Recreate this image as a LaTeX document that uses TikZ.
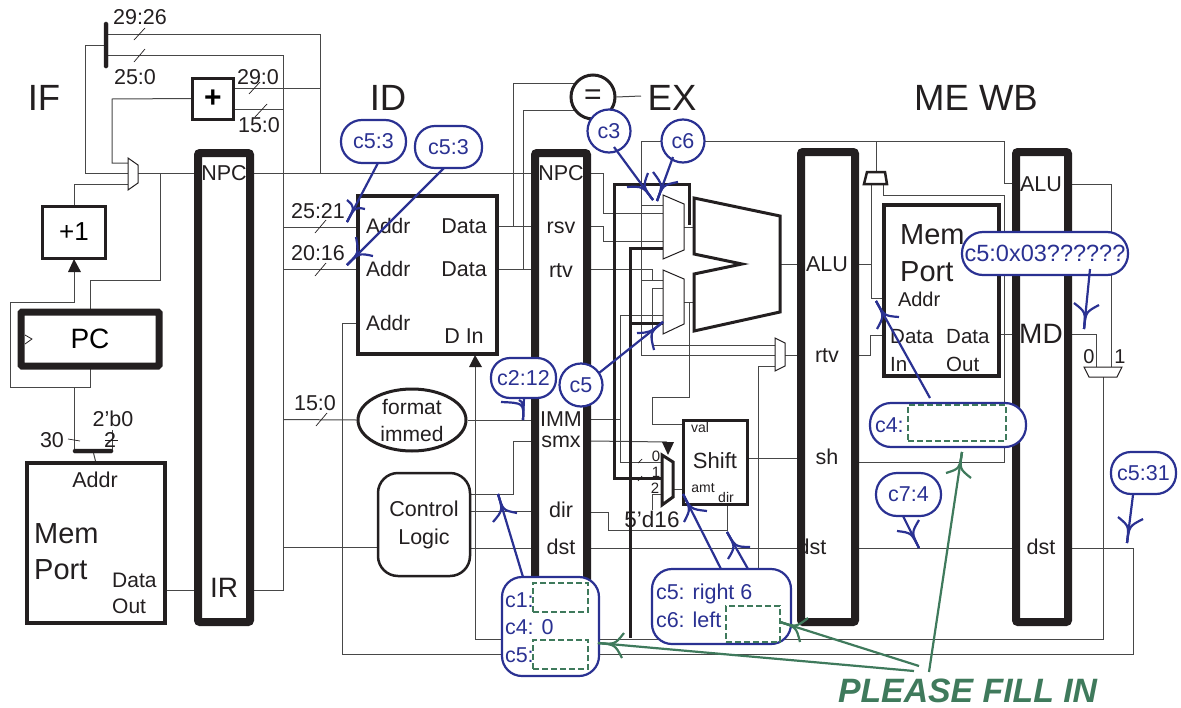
\documentclass[tikz,border=0pt]{standalone}
\usepackage{fontspec}
\setmainfont{Liberation Sans}
\usetikzlibrary{backgrounds,calc,shapes.geometric}
\newcommand\fs[1]{\fontsize{#1}{#1}\selectfont}
\definecolor{ink}{HTML}{231F20}
\definecolor{hblue}{HTML}{2A3192}
\definecolor{hgreen}{HTML}{3F7A5C}
\newcommand\hand[5]{%
  \coordinate (hS) at #2; \coordinate (hT) at #3;
  \coordinate (hC) at ($(hT)!17pt!(hS)$);
  \draw[#1] (hS) -- (hT);
  \draw[#1] #4 .. controls (hC) .. (hT);
  \draw[#1] #5 .. controls (hC) .. (hT);
}
\tikzset{
  wire/.style={line width=1pt,draw=black!72},
  hwire/.style={line width=3pt,draw=ink},
  tick/.style={line width=.7pt,draw=ink},
  reg/.style={draw=ink,rectangle,line width=8pt,rounded corners=2pt,inner sep=0,outer sep=0},
  box/.style={draw=ink,rectangle,line width=4pt,inner sep=0,outer sep=0},
  lab/.style={anchor=base,inner sep=0,outer sep=0,text=ink,font=\fs{21.5}},
  labl/.style={anchor=base west,inner sep=0,outer sep=0,text=ink,font=\fs{21}},
  big/.style={lab,font=\fs{36.5}},
  mid/.style={lab,font=\fs{28}},
  small/.style={lab,font=\fs{14}},
  mux/.style={draw=ink,line width=1pt,fill=white},
  bub/.style={draw=hblue,line width=2.2pt,fill=white,rectangle,inner sep=0,outer sep=0,text=hblue,font=\fs{21.5}},
  circ/.style={draw=hblue,line width=2.2pt,fill=white,circle,inner sep=0,outer sep=0,text=hblue,font=\fs{21.5},minimum size=43pt},
  bt/.style={anchor=base west,inner sep=0,outer sep=0,text=hblue,font=\fs{21.5}},
  gbox/.style={draw=hgreen,line width=2pt,dash pattern=on 6pt off 3pt,rectangle,inner sep=0,outer sep=0},
  ha/.style={draw=hblue,line width=2.2pt},
  ga/.style={draw=hgreen,line width=2.2pt},
}
\begin{document}
\begin{tikzpicture}[x=1pt,y=-1pt]
\useasboundingbox (0,0) rectangle (1181,707);
% stage titles
\node[big] (tIF) at (44,110) {IF};
\node[big] (tID) at (388,110) {ID};
\node[big] (tEX) at (672,110) {EX};
\node[big] (tME) at (976,110) {ME WB};
% buses and small boxes
\node[draw=ink,fill=ink,rectangle,rounded corners=1.5pt,minimum width=4pt,minimum height=46pt,inner sep=0] (split) at (106,45) {};
\node[box,line width=3pt,minimum width=41pt,minimum height=41pt,font=\bfseries\fs{30}] (add) at (213,98.5) {+};
\node[box,line width=3pt,minimum width=63pt,minimum height=52pt,font=\fs{26}] (inc) at (74,232) {+1};
\node[box,line width=7pt,rounded corners=1pt,minimum width=138pt,minimum height=54pt,font=\fs{28}] (pc) at (90,339) {PC};
\node[draw=ink,fill=ink,rectangle,rounded corners=1.5pt,minimum width=40pt,minimum height=4pt,inner sep=0] (join) at (93,451) {};
\node[box,minimum width=138pt,minimum height=160pt] (imem) at (96,543) {};
\node[box,minimum width=139pt,minimum height=158pt] (rf) at (427.5,275) {};
\node[box,minimum width=115pt,minimum height=171pt] (dmem) at (941.5,290.5) {};
\node[box,line width=3pt,minimum width=64pt,minimum height=84pt] (shift) at (715.5,462.5) {};
\node[draw=ink,line width=3pt,ellipse,minimum width=108pt,minimum height=62pt,inner sep=0,align=center,font=\fontsize{21}{27}\selectfont,text=ink,fill=white] (fmt) at (412,420) {format\\immed};
\node[draw=ink,line width=2.5pt,rectangle,rounded corners=20pt,minimum width=92pt,minimum height=103pt,inner sep=0,align=center,font=\fontsize{21.5}{28}\selectfont,text=ink,fill=white] (ctl) at (424,524.5) {Control\\Logic};
\node[draw=ink,line width=3pt,circle,minimum size=44pt,inner sep=0,font=\fs{30},text=ink,fill=white] (eq) at (593,97) {\raisebox{-2pt}{=}};
% labels under pipeline bars
\node[lab] at (812,554) {dst};
% pipeline registers
\node[reg,minimum width=52pt,minimum height=469pt] (r1) at (224,387.5) {};
\node[reg,minimum width=52pt,minimum height=469pt] (r2) at (561,387.5) {};
\node[reg,minimum width=54pt,minimum height=470pt] (r3) at (828,387) {};
\node[reg,minimum width=52pt,minimum height=470pt] (r4) at (1042,387) {};
% text
\node[lab] at (140,24) {29:26};
\node[lab] at (135,84) {25:0};
\node[lab] at (258,84) {29:0};
\node[lab] at (259,132) {15:0};
\node[lab] at (318,218) {25:21};
\node[lab] at (318,260) {20:16};
\node[lab] at (315,410) {15:0};
\node[lab] at (113,426) {2'b0};
\node[lab] at (52,447) {30};
\node[lab] at (110,447) {2};
\node[lab] at (95,487) {Addr};
\node[anchor=base west,inner sep=0,align=left,font=\fontsize{29}{36}\selectfont,text=ink] at (34,579) {Mem\\Port};
\node[anchor=base west,inner sep=0,align=left,font=\fontsize{21}{26}\selectfont,text=ink] at (112,613) {Data\\Out};
\node[lab] at (224,180) {NPC};
\node[mid] at (224,597) {IR};
\node[labl] at (366,233) {Addr};
\node[labl] at (366,276) {Addr};
\node[labl] at (366,330) {Addr};
\node[lab] at (464,233) {Data};
\node[lab] at (464,276) {Data};
\node[lab] at (464,343) {D In};
\node[lab] at (561,180) {NPC};
\node[lab] at (561,233) {rsv};
\node[lab] at (561,277) {rtv};
\node[lab] at (561,426) {IMM};
\node[lab] at (561,447) {smx};
\node[lab] at (561,517) {dir};
\node[lab] at (561,554) {dst};
\node[lab,font=\fs{22.5}] at (652,527) {5'd16};
\node[lab,font=\fs{22}] at (715,468) {Shift};
\node[small] at (700,432) {val};
\node[small] at (703,492) {amt};
\node[small] at (726,502) {dir};
\node[small,font=\fs{15}] at (656,461) {0};
\node[small,font=\fs{15}] at (656,477) {1};
\node[small,font=\fs{15}] at (655,493) {2};
\node[lab] at (827,271) {ALU};
\node[lab] at (827,362) {rtv};
\node[lab] at (827,464) {sh};
\node[lab] at (1041,191) {ALU};
\node[mid] at (1041,343) {MD};
\node[lab] at (1041,554) {dst};
\node[anchor=base west,inner sep=0,align=left,font=\fontsize{29}{37}\selectfont,text=ink] at (900,281) {Mem\\Port};
\node[labl,font=\fs{20}] at (898,306) {Addr};
\node[anchor=base west,inner sep=0,align=left,font=\fontsize{20.5}{28}\selectfont,text=ink] at (890,371) {Data\\In};
\node[anchor=base west,inner sep=0,align=left,font=\fontsize{20.5}{28}\selectfont,text=ink] at (946,371) {Data\\Out};
\node[lab,font=\fs{20}] at (1089,363) {0};
\node[lab,font=\fs{20}] at (1120,363) {1};
% muxes and ALU
\draw[mux] (128,158) -- (138,165) -- (138,183) -- (128,190) -- cycle;
\draw[mux] (663,195) -- (684,204) -- (684,250) -- (663,259) -- cycle;
\draw[mux] (663,270) -- (684,279) -- (684,324) -- (663,334) -- cycle;
\draw[mux] (775,338) -- (785,343) -- (785,366) -- (775,371) -- cycle;
\draw[mux,line width=3pt] (662,455) -- (673,462) -- (673,497) -- (662,505) -- cycle;
\draw[mux,line width=2.5pt] (867,172) -- (885,172) -- (887,184) -- (864,184) -- cycle;
\draw[mux] (1084,367) -- (1122,367) -- (1117,377) -- (1089,377) -- cycle;
\draw[draw=ink,line width=3pt,line join=miter] (694,198) -- (780,216) -- (780,312) -- (694,331) -- (694,274) -- (742,264) -- (694,254) -- cycle;
\draw[draw=ink,line width=.8pt,fill=white] (25,335) -- (32,339) -- (25,344);
\fill[ink] (74,259) -- (81,272) -- (68,272) -- cycle;
\fill[ink] (475,355) -- (482,367) -- (469,367) -- cycle;
\fill[ink] (662,442) -- (674,442) -- (668,455) -- cycle;
% pin coordinates
\coordinate (spA) at (106,34); \coordinate (spB) at (106,55.5); \coordinate (spC) at (106,45);
\coordinate (ifmA) at (128,163); \coordinate (ifmB) at (128,173); \coordinate (ifmC) at (128,184); \coordinate (ifmO) at (138,173);
\coordinate (npc1) at (194,173); \coordinate (npc1r) at (254,173); \coordinate (npc2) at (531,173); \coordinate (npc2r) at (591,173);
\coordinate (pcT) at (90,310); \coordinate (pcB) at (90,368);
\coordinate (rfA1) at (358,227); \coordinate (rfA2) at (358,269.5); \coordinate (rfA3) at (358,323);
\coordinate (rfD1) at (498,226); \coordinate (rfD2) at (498,269); \coordinate (rsv) at (531,226); \coordinate (rtv) at (531,269);
\coordinate (rsvR) at (591,226); \coordinate (rtvR) at (591,269);
\coordinate (immL) at (531,420); \coordinate (immR) at (591,419);
\coordinate (smxL) at (531,441); \coordinate (smxR) at (591,441);
\coordinate (dirL) at (531,511.5); \coordinate (dirR) at (591,512);
\coordinate (dstL) at (531,548); \coordinate (dstR) at (591,548);
\coordinate (e3L) at (797,548); \coordinate (e3R) at (859,548);
\coordinate (e4L) at (1012,548); \coordinate (e4R) at (1072,548);
\coordinate (ir) at (254,590); \coordinate (irL) at (194,590); \coordinate (imO) at (166,590);
\coordinate (aluO) at (780,264); \coordinate (aluR) at (797,264); \coordinate (aluRo) at (859,264);
\coordinate (shO) at (748,458); \coordinate (shR) at (797,458); \coordinate (shRo) at (859,462);
\coordinate (rtvM) at (785,355); \coordinate (rtvRL) at (797,355); \coordinate (rtvRo) at (859,355);
\coordinate (wbA) at (1012,183); \coordinate (wbAo) at (1072,184); \coordinate (dmO) at (1001,334); \coordinate (wbM) at (1012,334); \coordinate (wbMo) at (1072,334);
\coordinate (wbmA) at (1096,367); \coordinate (wbmB) at (1111,367); \coordinate (wbmO) at (1103,377);
\coordinate (m1a) at (663,205); \coordinate (m1b) at (663,213); \coordinate (m1c) at (663,241); \coordinate (m1d) at (663,248); \coordinate (m1o) at (684,227);
\coordinate (m2a) at (663,280); \coordinate (m2b) at (663,288); \coordinate (m2c) at (663,315); \coordinate (m2d) at (663,323); \coordinate (m2o) at (684,302);
\coordinate (aluA) at (694,227); \coordinate (aluB) at (694,302);
\coordinate (rmA) at (775,345); \coordinate (rmB) at (775,355); \coordinate (rmC) at (775,366);
\coordinate (smA) at (662,462); \coordinate (smB) at (662,478); \coordinate (smC) at (662,494); \coordinate (smO) at (673,489);
\coordinate (shAmt) at (684,489); \coordinate (shVal) at (684,424); \coordinate (shDir) at (727,505);
\coordinate (dmA) at (883,298); \coordinate (dmD) at (883,335); \coordinate (mmT) at (876,172); \coordinate (mmL) at (871,184); \coordinate (mmR) at (883,184);
\coordinate (dIn) at (475,367); \coordinate (incT) at (74,272); \coordinate (smxT) at (667,442);
\begin{pgfonlayer}{background}
\draw[wire] (spA) -- (320,34) -- (320,173);
\draw[wire] (spB) -- (283,55.5) -- (283,590) -- (ir);
\draw[wire] (spC) -- (85,45) -- (85,173) -- (ifmB);
\draw[wire] (ifmA) -- (112,163) -- (112,99) -- (add.west);
\draw[wire] (ifmC) -- (74,184) -- (inc.north);
\draw[wire] (ifmO) -- (npc1);
\draw[wire] (160,173) -- (160,280) -- (90,280) -- (pcT);
\draw[wire] (incT) -- (74,302) -- (10,302) -- (10,387) -- (90,387) -- (pcB);
\draw[wire] (74,387) -- (74,451);
\draw[wire] (join) -- (imem.north);
\draw[wire] (112,430) -- (112,451);
\draw[wire] (235,88) -- (320,88);
\draw[wire] (235,109) -- (283,109);
\draw[wire] (npc1r) -- (npc2);
\draw[wire] (283,227) -- (rfA1);
\draw[wire] (283,269.5) -- (rfA2);
\draw[wire] (283,419.5) -- (fmt.west);
\draw[wire] (283,547.5) -- (378,547.5);
\draw[wire] (imO) -- (irL);
\draw[wire] (rfA3) -- (342,323) -- (342,654) -- (1133,654) -- (1133,548) -- (e4R);
\draw[wire] (rfD1) -- (rsv);
\draw[wire] (rfD2) -- (rtv);
\draw[wire] (513,226) -- (513,83) -- (574,83);
\draw[wire] (523,269) -- (523,110) -- (577,110);
\draw[wire] (eq.east) -- (641,96);
\draw[wire] (fmt.east) -- (immL);
\draw[wire] (470,494) -- (513,494) -- (513,441) -- (smxL);
\draw[wire] (470,511.5) -- (dirL);
\draw[wire] (470,548) -- (dstL);
\draw[wire] (npc2r) -- (603,173) -- (603,213) -- (m1b);
\draw[wire] (rsvR) -- (603,226) -- (603,241) -- (m1c);
\draw[wire] (rtvR) -- (652,269) -- (652,280);
\draw[wire] (m1a) -- (641,205);
\draw[wire] (641,141) -- (641,355) -- (rmB);
\draw[wire] (m2a) -- (641,280);
\draw[wire] (m2b) -- (652,288) -- (652,345) -- (rmA);
\draw[wire] (641,141) -- (1004,141) -- (1004,183) -- (wbA);
\draw[wire] (876,141) -- (mmT);
\draw[wire] (mmL) -- (871,298) -- (dmA);
\draw[wire] (mmR) -- (883,195) -- (1004,195) -- (1004,462) -- (shRo);
\draw[wire] (immR) -- (620,419);
\draw[wire] (m2c) -- (620,315) -- (620,462) -- (smA);
\draw[wire] (m1o) -- (aluA);
\draw[wire] (m2o) -- (aluB);
\draw[wire] (689,302) -- (689,397) -- (652,397) -- (652,424) -- (shVal);
\draw[wire] (smxR) -- (smxT);
\draw[wire] (smC) -- (652,494) -- (652,510);
\draw[wire] (smO) -- (shAmt);
\draw[wire] (shO) -- (shR);
\draw[wire] (shDir) -- (727,530) -- (608,530) -- (608,512) -- (dirR);
\draw[wire] (rmC) -- (758,366) -- (758,639);
\draw[wire] (rtvM) -- (rtvRL);
\draw[wire] (rtvRo) -- (870,355) -- (870,335) -- (dmD);
\draw[wire] (aluO) -- (aluR);
\draw[wire] (aluRo) -- (871,264);
\draw[wire] (dstR) -- (e3L);
\draw[wire] (e3R) -- (e4L);
\draw[wire] (dmO) -- (wbM);
\draw[wire] (wbMo) -- (1096,334) -- (wbmA);
\draw[wire] (wbAo) -- (1111,184) -- (wbmB);
\draw[wire] (wbmO) -- (1103,639) -- (475,639) -- (dIn);
\draw[hwire] (smB) -- (614,478) -- (614,184) -- (689,184) -- (689,225);
\draw[hwire] (m1d) -- (630,248) -- (630,638);
\draw[hwire] (630,323) -- (m2d);
\draw[tick] (134,40) -- (145,28);
\draw[tick] (134,62) -- (145,49);
\draw[tick] (249,94) -- (260,82);
\draw[tick] (255,117) -- (267,104);
\draw[tick] (315,233) -- (326,220);
\draw[tick] (315,276) -- (326,263);
\draw[tick] (316,426) -- (327,413);
\draw[tick] (68,439) -- (80,441);
\draw[tick] (105,440) -- (118,440);
\draw[tick] (638,463) -- (642,459);
\draw[tick] (638,481) -- (642,476);
\end{pgfonlayer}
% bubbles
\node[bub,rounded corners=21pt,minimum width=65pt,minimum height=43pt] (bA) at (373.5,141.5) {c5:3};
\node[bub,rounded corners=20pt,minimum width=67pt,minimum height=42pt] (bB) at (448.5,147) {c5:3};
\node[circ] (bC) at (609,131) {c3};
\node[circ] (bD) at (683,141) {c6};
\node[bub,rounded corners=19pt,minimum width=65pt,minimum height=40pt] (bF) at (523.5,378) {c2:12};
\node[circ] (bE) at (581,385) {c5};
\node[bub,rounded corners=20pt,minimum width=97pt,minimum height=99pt] (bG) at (550.5,626.5) {};
\node[bt] at (505,607) {c1:};
\node[bt] at (505,634) {c4: 0};
\node[bt] at (505,662) {c5:};
\node[gbox,minimum width=55pt,minimum height=29pt] (g1) at (560.5,597.5) {};
\node[gbox,minimum width=55pt,minimum height=29pt] (g2) at (560.5,654.5) {};
\node[bub,rounded corners=20pt,minimum width=139pt,minimum height=75pt] (bH) at (721.5,606.5) {};
\node[bt] at (656,599) {c5: right 6};
\node[bt] at (656,627) {c6: left};
\node[gbox,minimum width=54pt,minimum height=36pt] (g3) at (753,624) {};
\node[bub,rounded corners=21pt,minimum width=156pt,minimum height=44pt] (bI) at (948,425) {};
\node[bt] at (875,432) {c4:};
\node[gbox,minimum width=98pt,minimum height=36pt] (g4) at (957,423) {};
\node[bub,rounded corners=21pt,font=\fs{23.5},minimum width=166pt,minimum height=43pt] (bJ) at (1045,253.5) {c5:0x03??????};
\node[bub,rounded corners=21pt,minimum width=65pt,minimum height=43pt] (bK) at (908.5,494.5) {c7:4};
\node[bub,rounded corners=20pt,minimum width=65pt,minimum height=42pt] (bL) at (1143.5,473) {c5:31};
% hand-drawn arrows
\hand{ha}{($(bA)+(4.5,21.5)$)}{(347,222)}{(347,200)}{(365,209)}
\hand{ha}{($(bB)+(-4.5,21)$)}{(347,265)}{(356,237)}{(373,256)}
\hand{ha}{($(bC)+(5,16)$)}{(653,200)}{(627,187)}{(648,173)}
\hand{ha}{($(bD)+(-10,16)$)}{(657,201)}{(653,172)}{(678,182)}
\hand{ha}{($(bE)+(18,-12)$)}{(663,322)}{(637,333)}{(654,350)}
\hand{ha}{($(bF)+(0.5,20)$)}{(523,420)}{(501,402)}{(519,400)}
\hand{ha}{($(bG)+(-27.5,-49.5)$)}{(498,494)}{(493,522)}{(517,513)}
\hand{ha}{($(bH)+(-0.5,-37.5)$)}{(683,494)}{(684,522)}{(707,511)}
\hand{ha}{($(bH)+(26.5,-37.5)$)}{(727,532)}{(728,559)}{(750,547)}
\hand{ha}{($(bI)+(-18,-27)$)}{(876,301)}{(877,329)}{(899,317)}
\hand{ha}{($(bJ)+(45,15.5)$)}{(1084,329)}{(1074,303)}{(1099,305)}
\hand{ha}{($(bK)+(-5.5,21.5)$)}{(919,548)}{(897,531)}{(919,520)}
\hand{ha}{($(bL)+(-10.5,22)$)}{(1127,543)}{(1118,517)}{(1143,519)}
\node[anchor=base west,inner sep=0,outer sep=0,text=hgreen,font=\bfseries\itshape\fs{33.8}] (please) at (838,702) {PLEASE FILL IN};
\hand{ga}{($(please.base west)+(91,-30)$)}{(962,452)}{(946,473)}{(971,478)}
\hand{ga}{($(please.base west)+(81,-36)$)}{(780,622)}{(808,618)}{(800,642)}
\hand{ga}{($(please.base west)+(76,-31)$)}{(598,643)}{(624,633)}{(622,658)}
\end{tikzpicture}
\end{document}
